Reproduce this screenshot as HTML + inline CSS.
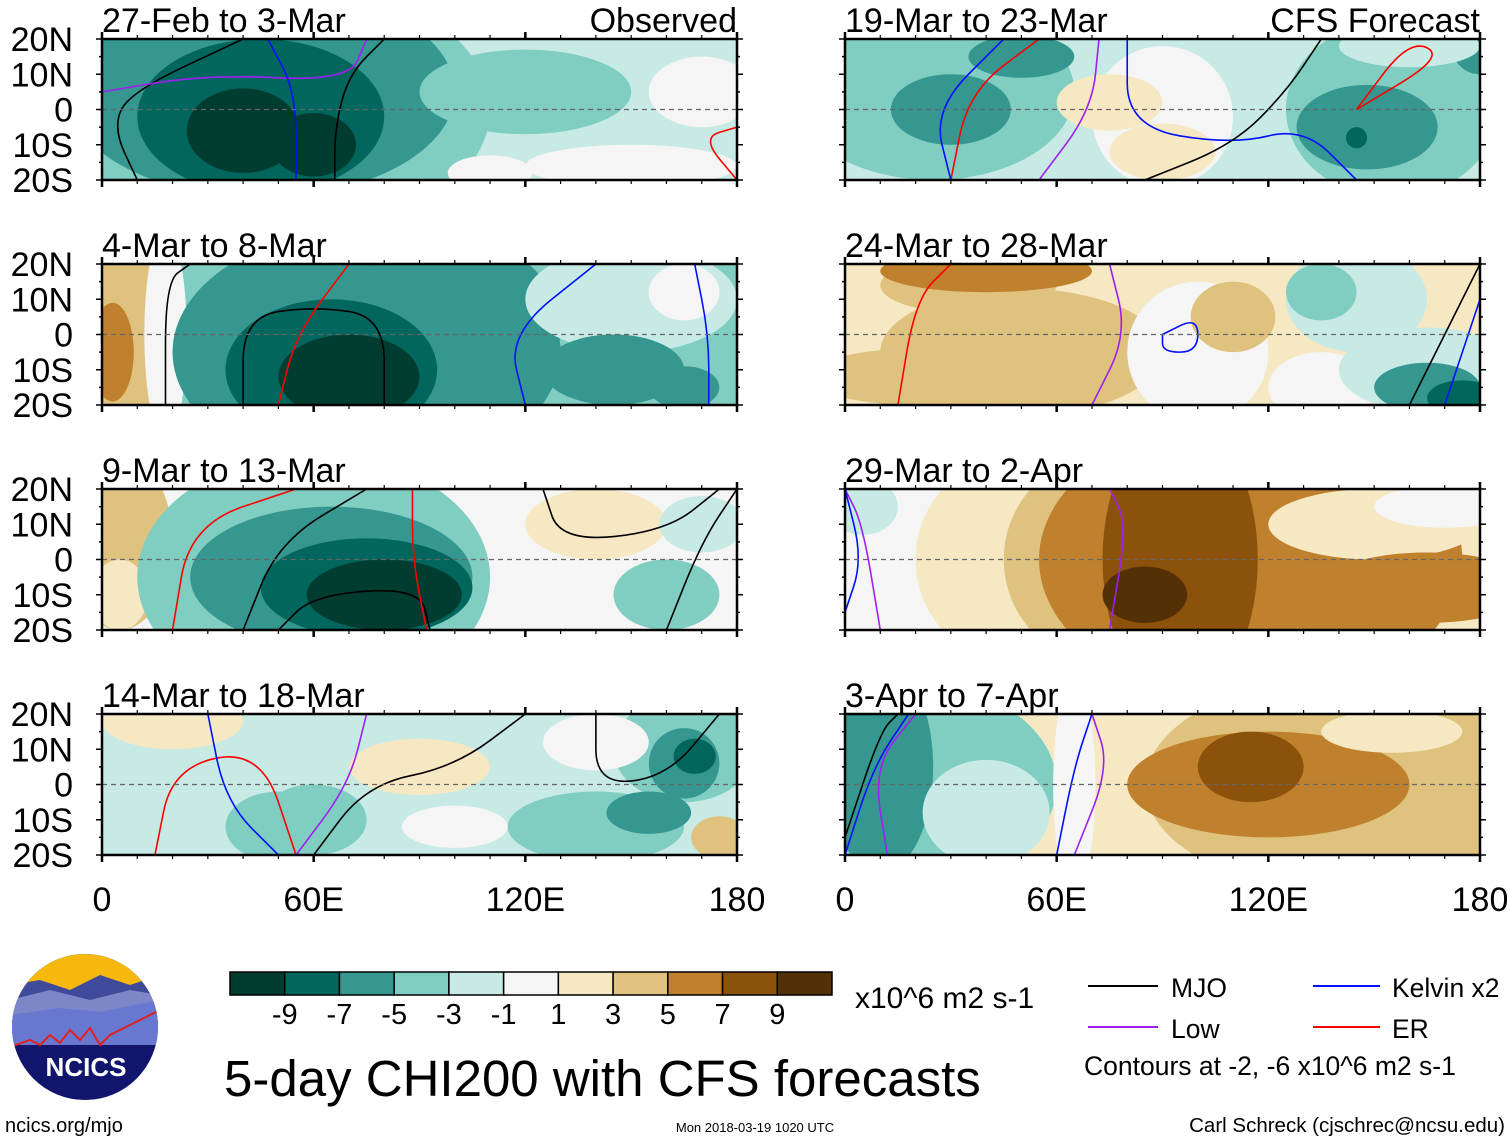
<!DOCTYPE html>
<html><head><meta charset="utf-8">
<style>
html,body{margin:0;padding:0;background:#fff;}
svg{display:block;font-family:"Liberation Sans",sans-serif;}
</style></head>
<body>
<svg id="fig" width="1510" height="1142" viewBox="0 0 1510 1142" xmlns="http://www.w3.org/2000/svg">
<g id="panels"></g>
<g id="bottom">
  <g>
    <clipPath id="logoclip"><circle cx="85" cy="1027" r="73"/></clipPath>
    <g clip-path="url(#logoclip)">
      <rect x="10" y="950" width="150" height="160" fill="#11156b"/>
      <rect x="10" y="950" width="150" height="40" fill="#f7b80c"/>
      <path d="M10 985 L40 980 L70 990 L100 975 L130 985 L160 975 L160 1030 L10 1030Z" fill="#3f4a9a"/>
      <path d="M10 1000 L50 990 L90 1000 L130 990 L160 995 L160 1030 L10 1030Z" fill="#7c86c8"/>
      <path d="M10 1015 L60 1008 L100 1012 L160 1000 L160 1045 L10 1045Z" fill="#6878d0"/>
      <path d="M10 1047 L30 1040 L40 1045 L50 1035 L60 1043 L70 1030 L80 1040 L90 1028 L100 1045 L110 1035 L130 1025 L160 1010" fill="none" stroke="#e02020" stroke-width="2"/>
    </g>
    <text x="86" y="1076" font-size="26" font-weight="bold" fill="#fff" text-anchor="middle">NCICS</text>
  </g>
  <g id="cbar"></g>
  <text x="855" y="1008" font-size="30">x10^6 m2 s-1</text>
  <text x="224" y="1096" font-size="51">5-day CHI200 with CFS forecasts</text>
  <g>
    <line x1="1088" y1="986" x2="1158" y2="986" stroke="#000" stroke-width="2"/>
    <text x="1171" y="997" font-size="26.5">MJO</text>
    <line x1="1313" y1="986" x2="1380" y2="986" stroke="#0010ff" stroke-width="2"/>
    <text x="1392" y="997" font-size="26.5">Kelvin x2</text>
    <line x1="1088" y1="1027" x2="1158" y2="1027" stroke="#a020f0" stroke-width="2"/>
    <text x="1171" y="1038" font-size="26.5">Low</text>
    <line x1="1313" y1="1027" x2="1380" y2="1027" stroke="#ff0000" stroke-width="2"/>
    <text x="1392" y="1038" font-size="26.5">ER</text>
    <text x="1084" y="1075" font-size="26.5">Contours at -2, -6 x10^6 m2 s-1</text>
  </g>
  <text x="5" y="1132" font-size="20">ncics.org/mjo</text>
  <text x="755" y="1132" font-size="13" text-anchor="middle">Mon 2018-03-19 1020 UTC</text>
  <text x="1505" y="1132" font-size="20.5" text-anchor="end">Carl Schreck (cjschrec@ncsu.edu)</text>
</g>
</svg>
<script>
// color levels (BrBG) and bounds
const levelColors = ["#003c30","#01665e","#35978f","#80cdc1","#c7eae5","#f5f5f5","#f6e8c3","#dfc27d","#bf812d","#8c510a","#543005"];
const levelBounds = [-9,-7,-5,-3,-1,1,3,5,7,9];
const lonTicks = [0,60,120,180];
const lonTickLabels = ["0","60E","120E","180"];
const latTicks = [20,10,0,-10,-20];
const latTickLabels = ["20N","10N","0","10S","20S"];
const panelTitles = ["27-Feb to 3-Mar","4-Mar to 8-Mar","9-Mar to 13-Mar","14-Mar to 18-Mar","19-Mar to 23-Mar","24-Mar to 28-Mar","29-Mar to 2-Apr","3-Apr to 7-Apr"];
const panelBg = [-2,-4,0,-2,-2,2,2,2];
// blobs: [lon, lat, lon-radius, lat-radius, value]
const blobs0 = [[40,0,70,40,-4],[45,5,55,30,-6],[45,-2,35,22,-8],[40,-6,16,12,-10],[60,-10,12,9,-10],[120,5,30,12,-4],[170,5,15,10,0],[150,-16,30,6,0],[110,-18,12,5,0]];
const blobs1 = [[5,-2,14,30,4],[3,-5,6,14,6],[18,0,6,30,0],[75,-5,55,35,-6],[100,2,30,25,-6],[65,-10,30,20,-8],[70,-12,20,12,-10],[150,10,30,15,-2],[165,12,10,8,0],[145,-10,20,10,-6],[165,-15,10,6,-6]];
const blobs2 = [[5,5,15,25,4],[5,-10,8,10,2],[60,-5,50,35,-4],[65,-5,40,20,-6],[75,-8,30,14,-8],[80,-10,22,10,-10],[140,10,20,10,2],[160,-10,15,10,-4],[170,10,12,8,-2]];
const blobs3 = [[20,18,20,8,2],[90,5,20,8,2],[60,-10,15,10,-4],[165,10,20,15,-4],[165,6,10,10,-6],[168,8,6,5,-8],[140,-12,25,10,-4],[155,-8,12,6,-6],[25,0,20,10,-2],[50,-12,15,10,-4],[175,-15,8,6,4],[140,12,15,8,0],[100,-12,15,6,0]];
const blobs4 = [[25,5,40,25,-4],[30,0,17,10,-6],[90,-2,20,20,0],[75,2,15,8,2],[90,-12,15,8,2],[155,0,30,25,-4],[148,-5,20,12,-6],[145,-8,3,3,-8],[50,15,15,6,-6],[180,18,8,8,-6],[160,18,20,6,-2]];
const blobs5 = [[50,-5,40,18,4],[35,14,25,8,4],[20,-12,30,8,4],[40,18,30,6,6],[100,-5,20,20,0],[135,-15,15,10,0],[145,10,20,15,-2],[135,12,10,8,-4],[165,-10,25,12,-2],[165,-15,15,7,-6],[175,-18,10,5,-8],[110,5,12,10,4]];
const blobs6 = [[10,0,30,30,0],[50,0,30,30,2],[75,0,30,30,4],[115,0,60,40,6],[95,0,22,40,8],[85,-10,12,8,10],[150,10,30,10,2],[170,15,20,6,0],[5,15,10,8,-2],[165,-8,30,10,6]];
const blobs7 = [[15,0,45,30,-4],[10,5,15,30,-6],[40,-8,18,15,-2],[65,0,6,30,0],[140,0,55,30,4],[120,0,40,15,6],[115,5,15,10,8],[155,15,20,6,2],[160,15,10,5,2]];
const panelBlobs = [blobs0,blobs1,blobs2,blobs3,blobs4,blobs5,blobs6,blobs7];
// contour lines: [color, [[lon,lat],...]]
const contours0 = [["#000",[[10,-20],[3,-5],[8,5],[40,20]]],["#000",[[66,-20],[66,-5],[70,10],[80,20]]],["#a020f0",[[0,5],[30,10],[70,8],[75,20]]],["#0010ff",[[47,20],[55,5],[55,-20]]],["#ff0000",[[180,-20],[170,-8],[180,-5]]]];
const contours1 = [["#000",[[40,-20],[40,5],[60,8],[80,5],[80,-20]]],["#000",[[18,-20],[18,15],[25,20]]],["#ff0000",[[50,-20],[55,0],[70,20]]],["#0010ff",[[120,-20],[115,0],[140,20]]],["#0010ff",[[172,-20],[172,0],[168,20]]]];
const contours2 = [["#000",[[40,-20],[50,5],[75,20]]],["#000",[[50,-20],[60,-10],[90,-8],[93,-20]]],["#ff0000",[[20,-20],[25,10],[55,20]]],["#ff0000",[[92,-20],[88,0],[88,20]]],["#000",[[160,-20],[170,5],[180,20]]],["#000",[[125,20],[130,5],[160,8],[175,20]]]];
const contours3 = [["#000",[[60,-20],[75,0],[100,5],[120,20]]],["#000",[[140,20],[140,0],[160,2],[175,20]]],["#ff0000",[[15,-20],[20,5],[45,10],[55,-20]]],["#0010ff",[[30,20],[35,-5],[50,-20]]],["#a020f0",[[55,-20],[70,0],[75,20]]]];
const contours4 = [["#ff0000",[[30,-20],[35,5],[55,20]]],["#0010ff",[[30,-20],[25,0],[45,20]]],["#a020f0",[[55,-20],[70,0],[72,20]]],["#0010ff",[[80,20],[80,-5],[110,-10],[130,-5],[145,-20]]],["#000",[[85,-20],[110,-10],[125,5],[135,20]]],["#ff0000",[[145,0],[170,15],[160,20],[145,0]]]];
const contours5 = [["#ff0000",[[15,-20],[20,10],[30,20]]],["#a020f0",[[70,-20],[80,0],[75,20]]],["#0010ff",[[90,0],[100,5],[100,-5],[90,-5],[90,0]]],["#000",[[160,-20],[170,0],[180,20]]],["#0010ff",[[170,-20],[180,10]]]];
const contours6 = [["#a020f0",[[0,20],[5,10],[10,-20]]],["#0010ff",[[0,-15],[5,0],[0,20]]],["#a020f0",[[75,-20],[80,10],[75,20]]]];
const contours7 = [["#000",[[0,-15],[10,15],[15,20]]],["#0010ff",[[0,-20],[8,5],[18,20]]],["#a020f0",[[12,-20],[8,5],[20,20]]],["#0010ff",[[60,-20],[65,5],[70,20]]],["#a020f0",[[65,-20],[75,5],[70,20]]]];
const panelContours = [contours0,contours1,contours2,contours3,contours4,contours5,contours6,contours7];

const NS="http://www.w3.org/2000/svg";
const W=635,H=141;
const panelX=[102,845], panelY=[39,264,489,714];
function colorOf(v){let i=0;while(i<levelBounds.length&&v>levelBounds[i])i++;return levelColors[i];}
function mk(tag,attrs,parent){const e=document.createElementNS(NS,tag);for(const k in attrs)e.setAttribute(k,attrs[k]);parent.appendChild(e);return e;}
const root=document.getElementById('panels');
for(let p=0;p<8;p++){
  const col=p<4?0:1,row=p%4;
  const x0=panelX[col],y0=panelY[row];
  const xs=lon=>x0+lon/180*W, ys=lat=>y0+(20-lat)/40*H;
  const g=mk('g',{},root);
  
  
  const cp=mk('clipPath',{id:'cp'+p},g);
  mk('rect',{x:x0,y:y0,width:W,height:H},cp);
  const inner=mk('g',{'clip-path':'url(#cp'+p+')'},g);
  const bg=mk('rect',{x:x0,y:y0,width:W,height:H,fill:colorOf(panelBg[p])},inner);
  
  
  panelBlobs[p].forEach(b=>{
    const e=mk('ellipse',{cx:xs(b[0]),cy:ys(b[1]),rx:b[2]/180*W,ry:b[3]/40*H,fill:colorOf(b[4])},inner);
    
    
  });
  panelContours[p].forEach(c=>{
    const pts=c[1].map(q=>[xs(q[0]),ys(q[1])]);
    let d='M'+pts[0][0]+' '+pts[0][1];
    for(let i=1;i<pts.length;i++){const a=pts[i-1],b=pts[i];const mx=(a[0]+b[0])/2,my=(a[1]+b[1])/2;d+=' Q'+a[0]+' '+a[1]+' '+mx+' '+my;}
    d+=' L'+pts[pts.length-1][0]+' '+pts[pts.length-1][1];
    const e=mk('path',{d:d,fill:'none',stroke:c[0],'stroke-width':1.6},inner);
    
    
  });
  const eq=mk('line',{x1:x0,y1:ys(0),x2:x0+W,y2:ys(0),stroke:'#666','stroke-width':1.2,'stroke-dasharray':'5,4'},g);
  
  
  const fr=mk('rect',{x:x0,y:y0,width:W,height:H,fill:'none',stroke:'#000','stroke-width':2.5},g);
  
  
  for(let lon=0;lon<=180;lon+=10){
    const L=lon%60===0?7:4;
    mk('line',{x1:xs(lon),y1:y0,x2:xs(lon),y2:y0-L,stroke:'#000','stroke-width':lon%60===0?2.5:1.2},g);
    mk('line',{x1:xs(lon),y1:y0+H,x2:xs(lon),y2:y0+H+L,stroke:'#000','stroke-width':lon%60===0?2.5:1.2},g);
  }
  for(let lat=-20;lat<=20;lat+=5){
    const L=lat%10===0?6:3;
    mk('line',{x1:x0,y1:ys(lat),x2:x0-L,y2:ys(lat),stroke:'#000','stroke-width':1.5},g);
    mk('line',{x1:x0+W,y1:ys(lat),x2:x0+W+L,y2:ys(lat),stroke:'#000','stroke-width':1.5},g);
  }
  const t=mk('text',{x:x0,y:y0-7,'font-size':34},g);
  t.textContent=panelTitles[p];
  
  
  if(row===0){
    const s=mk('text',{x:x0+W,y:y0-7,'font-size':34,'text-anchor':'end'},g);
    s.textContent=col===0?'Observed':'CFS Forecast';
    
    
  }
  if(col===0){
    latTicks.forEach((lat,i)=>{
      const l=mk('text',{x:73,y:ys(lat)+12,'font-size':34,'text-anchor':'end'},g);
      l.textContent=latTickLabels[i];
      
      
    });
  }
  if(row===3){
    lonTicks.forEach((lon,i)=>{
      const l=mk('text',{x:xs(lon),y:911,'font-size':34,'text-anchor':'middle'},g);
      l.textContent=lonTickLabels[i];
      
      
    });
  }
}
// colorbar
const cb=document.getElementById('cbar');
const cbX=230,cbW=602,cbY=972,cbH=23,bw=cbW/levelColors.length;
levelColors.forEach((c,i)=>{
  const r=mk('rect',{x:cbX+i*bw,y:cbY,width:bw,height:cbH,fill:c,stroke:'#000','stroke-width':1.5},cb);
  
  
});
levelBounds.forEach((v,i)=>{
  if(Math.abs(v)%2===1){
    const t=mk('text',{x:cbX+(i+1)*bw,y:1024,'font-size':29,'text-anchor':'middle'},cb);
    t.textContent=String(v);
    
    
  }
});
</script>
</body></html>
